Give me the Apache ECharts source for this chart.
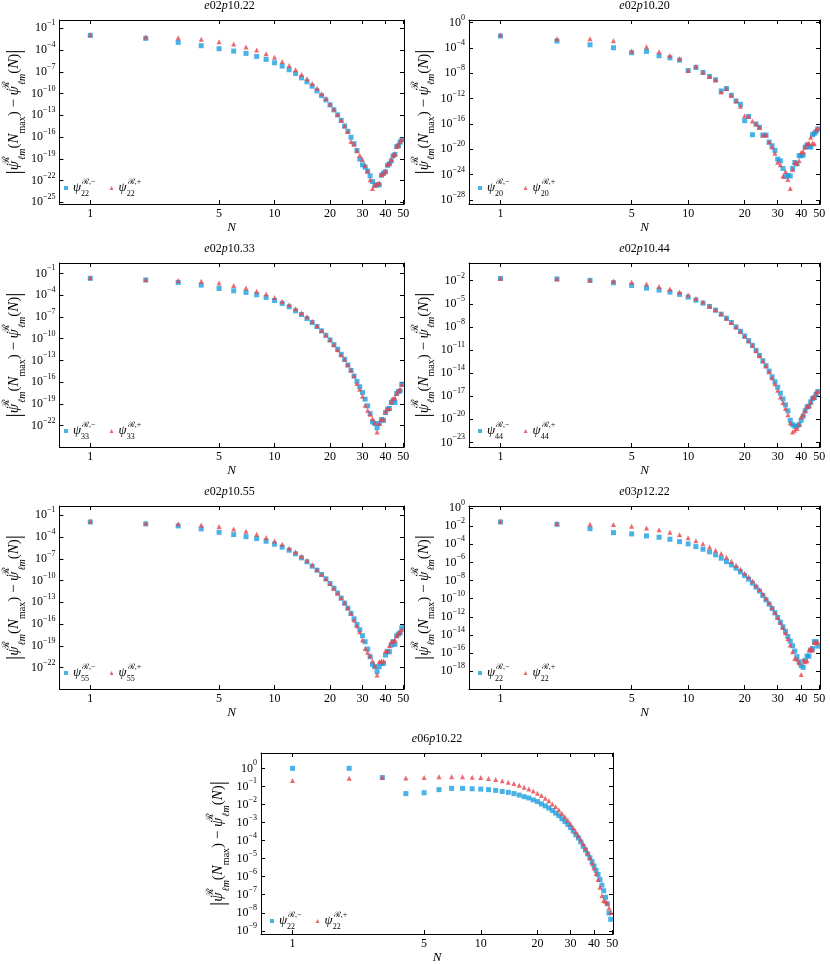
<!DOCTYPE html>
<html>
<head>
<meta charset="utf-8">
<script src="https://cdn.jsdelivr.net/npm/echarts@6/dist/echarts.min.js"></script>
<style>
  html, body { margin: 0; background: #fff; }
  #chart { width: 830px; height: 965px; }
</style>
</head>
<body>
<div id="chart"></div>
<script>
// truncation level N (x), and log10 |psi(Nmax) - psi(N)| per panel (y)
const N = [1, 2, 3, 4, 5, 6, 7, 8, 9, 10,
  11, 12, 13, 14, 15, 16, 17, 18, 19, 20,
  21, 22, 23, 24, 25, 26, 27, 28, 29, 30,
  31, 32, 33, 34, 35, 36, 37, 38, 39, 40,
  41, 42, 43, 44, 45, 46, 47, 48, 49]
const xTickValues = [1, 5, 10, 20, 30, 40, 50]

const titles = ['e02p10.22', 'e02p10.20', 'e02p10.33', 'e02p10.44', 'e02p10.55', 'e03p12.22', 'e06p10.22']
const modeLabels = ['22', '20', '33', '44', '55', '22', '22']

const ticksEvery3 = [-25, -22, -19, -16, -13, -10, -7, -4, -1]
const ticksE02p1020 = [-28, -24, -20, -16, -12, -8, -4, 0]
const ticksE02p1044 = [-23, -20, -17, -14, -11, -8, -5, -2]
const ticksE03p1222 = [-20, -18, -16, -14, -12, -10, -8, -6, -4, -2, 0]
const ticksE06p1022 = [-9, -8, -7, -6, -5, -4, -3, -2, -1, 0]

const e02p1022Minus = [-1.97, -2.38, -2.94, -3.4, -3.81, -4.14, -4.46, -4.88, -5.29, -5.75,
  -6.21, -6.72, -7.23, -7.83, -8.38, -8.98, -9.63, -10.28, -10.88, -11.57,
  -12.26, -12.95, -13.69, -14.47, -15.21, -16.04, -16.92, -17.84, -19.04, -19.83,
  -20.15, -20.7, -21.35, -22.14, -22.64, -22.6, -22.6, -21.26, -20.98, -20.8,
  -19.9, -19.7, -19.3, -18.6, -18.4, -17.3, -17.2, -16.7, -16.4]
const e02p1022Plus = [-1.88, -2.2, -2.29, -2.52, -2.85, -3.17, -3.58, -4.0, -4.5, -5.0,
  -5.57, -6.12, -6.72, -7.37, -7.97, -8.61, -9.26, -10.04, -10.69, -11.43,
  -12.12, -12.9, -13.69, -14.47, -15.25, -16.6, -17.0, -17.9, -18.5, -19.1,
  -19.9, -20.7, -21.9, -23.1, -22.64, -22.46, -22.3, -21.2, -21.0, -20.7,
  -19.8, -19.6, -19.1, -18.5, -18.3, -17.3, -17.1, -16.6, -16.3]

const e02p1020Minus = [-2.11, -2.9, -3.49, -3.96, -4.75, -4.54, -5.23, -5.55, -5.92, -7.55,
  -7.08, -7.87, -8.5, -9.03, -10.78, -10.4, -11.46, -12.36, -12.89, -15.48,
  -14.8, -17.7, -16.0, -16.53, -17.75, -17.75, -18.86, -19.44, -20.18, -21.55,
  -21.82, -23.03, -24.3, -24.1, -24.2, -22.98, -22.08, -22.3, -21.0, -21.0,
  -20.9, -19.65, -19.3, -19.55, -19.65, -17.7, -17.5, -17.2, -16.8]
const e02p1020Plus = [-1.9, -2.54, -2.54, -2.85, -4.49, -3.8, -4.6, -5.18, -5.65, -7.55,
  -6.87, -7.82, -8.45, -9.03, -10.93, -10.4, -11.46, -12.36, -13.2, -14.69,
  -14.8, -15.53, -16.0, -16.53, -17.75, -17.75, -18.86, -19.65, -20.6, -22.03,
  -22.45, -24.25, -23.5, -24.78, -26.2, -23.2, -22.08, -22.2, -21.76, -20.44,
  -20.34, -19.65, -19.12, -19.0, -18.1, -19.0, -19.1, -16.9, -16.64]

const e02p1033Minus = [-1.69, -1.92, -2.25, -2.62, -3.08, -3.4, -3.63, -3.95, -4.32, -4.74,
  -5.15, -5.61, -6.17, -6.68, -7.23, -7.78, -8.34, -8.94, -9.54, -10.18,
  -10.83, -11.48, -12.17, -12.86, -13.64, -14.38, -15.17, -15.9, -16.64, -17.43,
  -18.35, -19.27, -20.34, -21.49, -21.72, -22.3, -21.72, -21.17, -21.26, -20.2,
  -19.74, -19.64, -18.81, -18.5, -18.81, -17.57, -17.3, -17.2, -16.3]
const e02p1033Plus = [-1.6, -1.83, -1.97, -2.1, -2.34, -2.66, -3.03, -3.45, -3.86, -4.32,
  -4.83, -5.34, -5.89, -6.45, -7.0, -7.6, -8.24, -8.89, -9.49, -10.14,
  -10.83, -11.52, -12.21, -12.86, -13.6, -14.34, -15.12, -16.18, -16.97, -17.94,
  -19.18, -19.87, -20.43, -21.03, -21.58, -22.87, -21.72, -21.12, -21.12, -20.1,
  -19.64, -19.64, -18.72, -18.26, -18.17, -17.57, -17.2, -16.97, -16.3]

const e02p1044Minus = [-1.7, -1.78, -1.96, -2.26, -2.61, -2.96, -3.22, -3.48, -3.78, -4.13,
  -4.52, -4.91, -5.35, -5.83, -6.35, -6.87, -7.43, -8.0, -8.57, -9.17,
  -9.78, -10.39, -11.04, -11.7, -12.39, -13.04, -13.74, -14.48, -15.13, -15.83,
  -16.6, -17.35, -18.13, -18.9, -20.13, -20.7, -20.9, -20.9, -20.7, -20.13,
  -19.6, -18.9, -18.4, -18.3, -17.74, -17.3, -17.17, -16.74, -16.4]
const e02p1044Plus = [-1.7, -1.74, -1.91, -2.04, -2.17, -2.43, -2.74, -3.09, -3.48, -3.87,
  -4.3, -4.78, -5.3, -5.78, -6.3, -6.87, -7.43, -8.0, -8.6, -9.22,
  -9.83, -10.43, -11.09, -11.74, -12.43, -13.09, -13.83, -14.61, -15.39, -16.22,
  -17.09, -17.83, -18.6, -19.4, -20.48, -21.65, -21.43, -21.2, -20.64, -19.7,
  -19.35, -18.9, -18.3, -18.26, -17.78, -17.2, -17.17, -16.57, -16.35]

const e02p1055Minus = [-1.92, -2.19, -2.47, -2.88, -3.34, -3.66, -3.94, -4.21, -4.58, -4.99,
  -5.4, -5.82, -6.32, -6.87, -7.42, -8.02, -8.57, -9.17, -9.76, -10.4,
  -11.05, -11.73, -12.42, -13.11, -13.8, -14.53, -15.27, -16.05, -16.78, -17.61,
  -18.43, -19.44, -20.5, -21.55, -21.87, -22.56, -21.87, -21.42, -21.42, -20.27,
  -19.81, -19.81, -18.9, -18.43, -18.8, -17.61, -17.38, -17.2, -16.5]
const e02p1055Plus = [-1.83, -2.1, -2.15, -2.34, -2.56, -2.88, -3.2, -3.61, -4.07, -4.53,
  -4.99, -5.54, -6.05, -6.64, -7.24, -7.83, -8.48, -9.12, -9.76, -10.4,
  -11.05, -11.7, -12.38, -13.07, -13.75, -14.49, -15.45, -16.23, -17.06, -18.2,
  -19.35, -19.9, -20.36, -21.1, -21.78, -23.02, -21.2, -21.1, -21.1, -19.72,
  -19.72, -18.98, -18.43, -18.34, -18.2, -17.61, -17.29, -17.06, -16.7]

const e03p1222Minus = [-1.54, -1.8, -2.28, -2.72, -2.86, -3.08, -3.23, -3.45, -3.71, -3.96,
  -4.26, -4.55, -4.84, -5.17, -5.54, -5.91, -6.28, -6.64, -7.05, -7.45,
  -7.85, -8.29, -8.73, -9.17, -9.65, -10.13, -10.6, -11.08, -11.56, -12.07,
  -12.59, -13.1, -13.61, -14.17, -14.68, -15.19, -15.78, -16.4, -16.95, -17.39,
  -17.58, -16.84, -16.33, -16.33, -15.67, -15.49, -14.75, -14.75, -15.23]
const e03p1222Plus = [-1.47, -1.72, -1.8, -1.83, -2.02, -2.2, -2.39, -2.68, -2.94, -3.27,
  -3.6, -3.93, -4.29, -4.66, -5.03, -5.43, -5.87, -6.31, -6.72, -7.19,
  -7.6, -8.04, -8.51, -8.99, -9.47, -9.94, -10.46, -10.97, -11.52, -12.07,
  -12.62, -13.17, -13.76, -14.42, -15.12, -15.85, -16.59, -16.66, -17.06, -18.35,
  -16.77, -16.95, -16.84, -15.67, -15.49, -15.67, -14.83, -14.86, -14.75]

const e06p1022Minus = [0, 0, -0.51, -1.4, -1.35, -1.18, -1.11, -1.11, -1.13, -1.15,
  -1.18, -1.22, -1.28, -1.33, -1.4, -1.48, -1.57, -1.64, -1.75, -1.84,
  -1.97, -2.08, -2.2, -2.33, -2.48, -2.62, -2.79, -2.95, -3.11, -3.28,
  -3.48, -3.68, -3.86, -4.08, -4.32, -4.52, -4.74, -4.95, -5.17, -5.41,
  -5.65, -5.88, -6.16, -6.47, -6.78, -7.14, -7.5, -8.01, -8.36]
const e06p1022Plus = [-0.67, -0.55, -0.51, -0.53, -0.51, -0.47, -0.46, -0.46, -0.49, -0.51,
  -0.56, -0.62, -0.69, -0.77, -0.84, -0.93, -1.04, -1.15, -1.26, -1.38,
  -1.51, -1.66, -1.8, -1.97, -2.13, -2.31, -2.5, -2.68, -2.88, -3.08,
  -3.3, -3.52, -3.73, -3.95, -4.19, -4.43, -4.68, -4.95, -5.25, -5.52,
  -5.83, -6.16, -6.59, -7.05, -7.32, -7.36, -7.47, -7.74, -7.98]

const FONT = '"Liberation Serif", "DejaVu Serif", serif'
const BLUE = '#1c9fe0'
const RED = '#e8434e'
const lg = v => Math.log10(v)

// layout: [left, top, width, height] of each plot box, plus y range (log10)
const panels = [
  { minus: e02p1022Minus, plus: e02p1022Plus, yTicks: ticksEvery3, yRange: [-25.24, 0.15], box: [55, 20, 349, 184] },
  { minus: e02p1020Minus, plus: e02p1020Plus, yTicks: ticksE02p1020, yRange: [-28.63, 0.42], box: [469, 20, 351, 184] },
  { minus: e02p1033Minus, plus: e02p1033Plus, yTicks: ticksEvery3, yRange: [-24.95, 0.43], box: [55, 263, 349, 184] },
  { minus: e02p1044Minus, plus: e02p1044Plus, yTicks: ticksE02p1044, yRange: [-23.6, 0.3], box: [469, 263, 351, 184] },
  { minus: e02p1055Minus, plus: e02p1055Plus, yTicks: ticksEvery3, yRange: [-24.95, 0.28], box: [55, 506, 349, 183] },
  { minus: e03p1222Minus, plus: e03p1222Plus, yTicks: ticksE03p1222, yRange: [-19.96, 0.22], box: [469, 506, 351, 183] },
  { minus: e06p1022Minus, plus: e06p1022Plus, yTicks: ticksE06p1022, yRange: [-9.18, 0.85], box: [261, 753, 352, 184] },
]

const titleText = t => t.replace(/^e/, '{i|e}').replace('p', '{i|p}')
const yLabel = v => `{b|10}{s|${v === 0 ? '0' : '\u2212' + Math.abs(v)}}`
const yName = '{bar||}{it|ψ}{sp|ℛ}{sb|ℓm}{rm|(}{it|N}{mx|max}{rm|) \u2212 }' +
  '{it|ψ}{sp|ℛ}{sb|ℓm}{rm|(}{it|N}{rm|)}{bar||}'

const option = {
  animation: false,
  backgroundColor: '#fff',
  textStyle: { fontFamily: FONT },
  title: [],
  grid: [],
  xAxis: [],
  yAxis: [],
  legend: [],
  series: [],
}

const blackLine = { show: true, onZero: false, lineStyle: { color: '#000', width: 1 } }

panels.forEach((p, k) => {
  const [left, top, width, height] = p.box
  option.grid.push({ left, top, width, height })

  option.title.push({
    text: titleText(titles[k]),
    left: left + width / 2,
    top: top - 20,
    textAlign: 'center',
    padding: 0,
    textStyle: {
      fontFamily: FONT, fontSize: 12, fontWeight: 'normal', color: '#000',
      rich: { i: { fontFamily: FONT, fontSize: 12, fontStyle: 'italic', color: '#000' } },
    },
  })

  const xTicks = xTickValues.map(lg)
  const xBase = {
    type: 'value', gridIndex: k, min: lg(0.68), max: lg(50.4),
    axisLine: blackLine, splitLine: { show: false },
    axisTick: { show: true, inside: true, length: 4, customValues: xTicks, lineStyle: { color: '#000' } },
  }
  option.xAxis.push({
    ...xBase, position: 'bottom',
    axisLabel: {
      customValues: xTicks, margin: 4, fontFamily: FONT, fontSize: 12, color: '#000',
      formatter: v => String(Math.round(Math.pow(10, v))),
    },
    name: 'N', nameLocation: 'middle', nameGap: 14,
    nameTextStyle: { fontFamily: FONT, fontStyle: 'italic', fontSize: 13, color: '#000' },
  })
  option.xAxis.push({ ...xBase, position: 'top', axisLabel: { show: false } })

  const yBase = {
    type: 'value', gridIndex: k, min: p.yRange[0], max: p.yRange[1],
    axisLine: blackLine, splitLine: { show: false },
    axisTick: { show: true, inside: true, length: 4, customValues: p.yTicks, lineStyle: { color: '#000' } },
  }
  option.yAxis.push({
    ...yBase, position: 'left',
    axisLabel: {
      customValues: p.yTicks, margin: 4, color: '#000', formatter: yLabel,
      rich: {
        b: { fontFamily: FONT, fontSize: 12, lineHeight: 18, color: '#000' },
        s: { fontFamily: FONT, fontSize: 8, lineHeight: 9, verticalAlign: 'top', color: '#000' },
      },
    },
    name: yName, nameLocation: 'middle', nameRotate: 90, nameGap: 30,
    nameTextStyle: {
      fontFamily: FONT, fontSize: 15, lineHeight: 26, color: '#000',
      rich: {
        bar: { fontFamily: FONT, fontSize: 21, lineHeight: 26, color: '#000' },
        it: { fontFamily: FONT, fontSize: 15, fontStyle: 'italic', lineHeight: 26, color: '#000' },
        rm: { fontFamily: FONT, fontSize: 15, lineHeight: 26, color: '#000' },
        sp: { fontFamily: FONT, fontSize: 10, lineHeight: 12, width: 1, verticalAlign: 'top', color: '#000' },
        sb: { fontFamily: FONT, fontSize: 10, fontStyle: 'italic', lineHeight: 12, verticalAlign: 'bottom', color: '#000' },
        mx: { fontFamily: FONT, fontSize: 10, lineHeight: 12, verticalAlign: 'bottom', color: '#000' },
      },
    },
  })
  option.yAxis.push({ ...yBase, position: 'right', axisLabel: { show: false } })

  const nameMinus = `p${k}-`
  const namePlus = `p${k}+`
  option.series.push({
    type: 'scatter', name: nameMinus, xAxisIndex: 2 * k, yAxisIndex: 2 * k,
    symbol: 'rect', symbolSize: 5, itemStyle: { color: BLUE }, silent: true, z: 2,
    data: N.map((n, i) => [lg(n), p.minus[i]]),
  })
  option.series.push({
    type: 'scatter', name: namePlus, xAxisIndex: 2 * k, yAxisIndex: 2 * k,
    symbol: 'triangle', symbolSize: 5, itemStyle: { color: RED }, silent: true, z: 3,
    data: N.map((n, i) => [lg(n), p.plus[i]]),
  })

  option.legend.push({
    left: left + 9, top: top + height - 26,
    selectedMode: false, itemWidth: 4, itemHeight: 4, itemGap: 14, padding: 0,
    data: [{ name: nameMinus, icon: 'rect' }, { name: namePlus, icon: 'triangle' }],
    formatter: name => `{psi|ψ}{sb|${modeLabels[k]}}{sp|ℛ,${name.endsWith('-') ? '\u2212' : '+'}}`,
    textStyle: {
      fontFamily: FONT, color: '#000',
      rich: {
        psi: { fontFamily: FONT, fontSize: 13, fontStyle: 'italic', lineHeight: 20, color: '#000' },
        sb: { fontFamily: FONT, fontSize: 8, lineHeight: 9, width: 1, verticalAlign: 'bottom', color: '#000' },
        sp: { fontFamily: FONT, fontSize: 8, lineHeight: 9, verticalAlign: 'top', color: '#000' },
      },
    },
  })
})

const chart = echarts.init(document.getElementById('chart'))
chart.setOption(option)
</script>
</body>
</html>
